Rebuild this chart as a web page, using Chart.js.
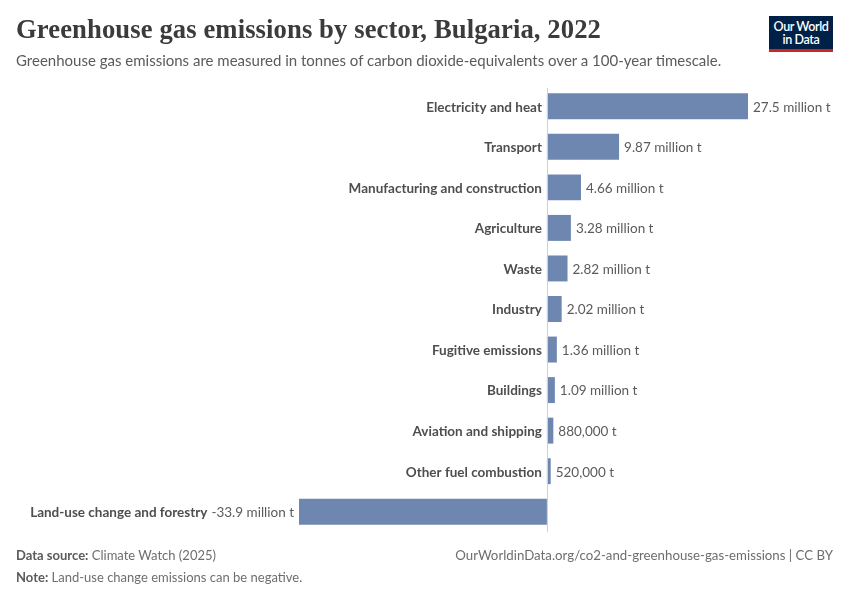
<!DOCTYPE html>
<html>
<head>
<meta charset="utf-8">
<script src="https://cdn.jsdelivr.net/npm/chart.js@4"></script>
<style>
  html, body { margin: 0; padding: 0; background: #fff; }
  #wrap { position: relative; width: 850px; height: 600px; overflow: hidden; font-family: Lato, "Noto Sans", sans-serif; }
  #c { position: absolute; left: 0; top: 0; }
  #title { position: absolute; left: 16px; top: 14px; font-family: "Liberation Serif", "DejaVu Serif", serif; font-weight: bold; font-size: 27px; color: #3b3b3b; white-space: nowrap; transform-origin: 0 0; letter-spacing: 0.1px; }
  #subtitle { position: absolute; left: 16px; top: 51px; font-size: 15px; color: #5b5b5b; white-space: nowrap; }
  #logo { position: absolute; left: 769px; top: 16px; width: 64px; height: 36px; background: #002147; border-bottom: 3px solid #ce261e; color: #fff; font-size: 12.5px; line-height: 13px; text-align: center; box-sizing: border-box; padding-top: 4px; letter-spacing: -0.4px; font-weight: 600; }
  .foot { position: absolute; font-size: 13px; color: #6e6e6e; white-space: nowrap; }
  .foot b { color: #5b5b5b; font-weight: 700; }
</style>
</head>
<body>
<div id="wrap">
  <canvas id="c" width="850" height="600"></canvas>
  <div id="title">Greenhouse gas emissions by sector, Bulgaria, 2022</div>
  <div id="subtitle">Greenhouse gas emissions are measured in tonnes of carbon dioxide-equivalents over a 100-year timescale.</div>
  <div id="logo">Our World<br>in Data</div>
  <div class="foot" style="left:16px; top:547px;"><b>Data source:</b> Climate Watch (2025)</div>
  <div class="foot" style="right:17px; top:547px; font-size:13.25px;">OurWorldinData.org/co2-and-greenhouse-gas-emissions | CC BY</div>
  <div class="foot" style="left:16px; top:569px;"><b>Note:</b> Land-use change emissions can be negative.</div>
</div>
<script>
const categories = [
  "Electricity and heat", "Transport", "Manufacturing and construction", "Agriculture",
  "Waste", "Industry", "Fugitive emissions", "Buildings", "Aviation and shipping",
  "Other fuel combustion", "Land-use change and forestry"
];
const valuesMillionT = [27.5, 9.87, 4.66, 3.28, 2.82, 2.02, 1.36, 1.09, 0.88, 0.52, -33.9];
const valueLabels = [
  "27.5 million t", "9.87 million t", "4.66 million t", "3.28 million t", "2.82 million t",
  "2.02 million t", "1.36 million t", "1.09 million t", "880,000 t", "520,000 t", "-33.9 million t"
];

// fit title width
const t = document.getElementById('title');
const tw = t.getBoundingClientRect().width;
t.style.transform = 'scaleX(' + (585 / tw) + ')';

const labelPlugin = {
  id: 'labels',
  afterDatasetsDraw(chart) {
    const ctx = chart.ctx;
    const meta = chart.getDatasetMeta(0);
    const xs = chart.scales.x;
    const zero = xs.getPixelForValue(0);
    const area = chart.chartArea;
    ctx.save();
    ctx.strokeStyle = '#d0d0d0';
    ctx.lineWidth = 1;
    ctx.beginPath();
    ctx.moveTo(Math.round(zero) + 0.5, area.top + 2);
    ctx.lineTo(Math.round(zero) + 0.5, area.bottom);
    ctx.stroke();
    ctx.textBaseline = 'middle';
    const boldF = 'bold 13.5px Lato, "Noto Sans", sans-serif';
    const regF = '13.5px Lato, "Noto Sans", sans-serif';
    meta.data.forEach((bar, i) => {
      const v = valuesMillionT[i];
      const y = bar.y + 1;
      if (v >= 0) {
        ctx.font = boldF;
        ctx.fillStyle = '#4e4e4e';
        ctx.textAlign = 'right';
        ctx.fillText(categories[i], zero - 5, y);
        ctx.font = regF;
        ctx.fillStyle = '#5b5b5b';
        ctx.textAlign = 'left';
        ctx.fillText(valueLabels[i], bar.x + 5, y);
      } else {
        ctx.font = regF;
        ctx.fillStyle = '#5b5b5b';
        ctx.textAlign = 'right';
        const vx = bar.x - 5;
        ctx.fillText(valueLabels[i], vx, y);
        const w = ctx.measureText(valueLabels[i]).width;
        ctx.font = boldF;
        ctx.fillStyle = '#4e4e4e';
        ctx.fillText(categories[i], vx - w - 4, y);
      }
    });
    ctx.restore();
  }
};

new Chart(document.getElementById('c'), {
  type: 'bar',
  data: {
    labels: categories,
    datasets: [{
      data: valuesMillionT,
      backgroundColor: '#6e87b1',
      borderWidth: 0,
      categoryPercentage: 1,
      barPercentage: 0.64
    }]
  },
  options: {
    indexAxis: 'y',
    responsive: false,
    animation: false,
    layout: { padding: { left: 299, right: 102, top: 86, bottom: 68 } },
    plugins: { legend: { display: false }, tooltip: { enabled: false } },
    scales: {
      x: { display: false, min: -33.9, max: 27.5 },
      y: { display: false }
    }
  },
  plugins: [labelPlugin]
});
</script>
</body>
</html>
